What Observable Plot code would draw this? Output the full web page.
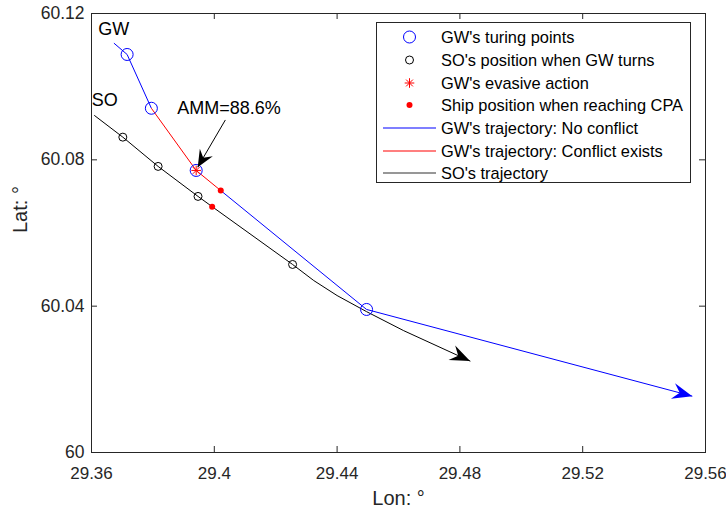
<!DOCTYPE html>
<html>
<head>
<meta charset="utf-8">
<script src="https://cdn.jsdelivr.net/npm/d3@7"></script>
<script src="https://cdn.jsdelivr.net/npm/@observablehq/plot@0.6"></script>
<style>
  html, body { margin: 0; padding: 0; background: #fff; }
  #wrap { position: relative; width: 726px; height: 511px; font-family: "Liberation Sans", Arial, sans-serif; }
  #legend { position: absolute; left: 376px; top: 22px; width: 315px; height: 161px;
            border: 1px solid #262626; background: #fff; box-sizing: border-box; }
  #legend .row { position: absolute; left: 0; height: 22px; line-height: 22px; font-size: 16.4px; color: #000; white-space: nowrap; }
  #legend svg { position: absolute; left: 6px; top: 0; }
  #legend span { position: absolute; left: 64px; top: 0; }
</style>
</head>
<body>
<div id="wrap"></div>
<script>
// Axis ticks
const xTicks = [29.36, 29.40, 29.44, 29.48, 29.52, 29.56];
const xTickLabels = ["29.36", "29.4", "29.44", "29.48", "29.52", "29.56"];
const yTicks = [60.00, 60.04, 60.08, 60.12];
const yTickLabels = ["60", "60.04", "60.08", "60.12"];

// GW (give-way ship) track, lon/lat in degrees
const gwLon = [29.3673, 29.3716, 29.3795, 29.3941, 29.4021, 29.4496, 29.5557];
const gwLat = [60.1119, 60.1088, 60.0941, 60.0771, 60.0716, 60.0391, 60.0154];
// segment i -> i+1 flagged when a conflict exists
const gwConflict = [false, false, true, true, false, false];
const gwTurnIdx = [1, 2, 3, 5];
const gwEvasiveIdx = [3];
const gwCpaIdx = [4];

// SO (stand-on ship) track
const soLon = [29.3610, 29.3702, 29.3817, 29.3947, 29.3993, 29.4255, 29.4324, 29.4400, 29.4496, 29.4617, 29.4833];
const soLat = [60.0921, 60.0862, 60.0782, 60.0700, 60.0672, 60.0514, 60.0470, 60.0429, 60.0385, 60.0333, 60.0250];
const soMarkIdx = [1, 2, 3, 5];
const soCpaIdx = [4];

// Annotations
const ammText = ["AMM=88.6%"];
const ammTextLon = [29.3879], ammTextLat = [60.0940];
const ammArrowFrom = [29.4036, 60.0909];
const ammArrowTo = [29.3946, 60.0780];
const shipNames = ["GW", "SO"];
const shipNameLon = [29.3622, 29.3601];
const shipNameLat = [60.1158, 60.0962];

const BLUE = "#0000ff", RED = "#ff0000", BLACK = "#000000", AXIS = "#262626";
const FONT = "'Liberation Sans', Arial, sans-serif";

const gwPts = gwLon.map((lon, i) => ({lon, lat: gwLat[i]}));
const soPts = soLon.map((lon, i) => ({lon, lat: soLat[i]}));
const gwSegs = gwConflict.map((c, i) => ({
  x1: gwLon[i], y1: gwLat[i], x2: gwLon[i + 1], y2: gwLat[i + 1], conflict: c, last: i === gwConflict.length - 1
}));

const svgNS = "http://www.w3.org/2000/svg";
// filled, notched arrowhead used at the end of tracks
function notchedHead(len, half, notch) {
  return function (color, context) {
    const doc = (context && context.document) || document;
    const m = doc.createElementNS(svgNS, "marker");
    m.setAttribute("viewBox", `${-len - 1} ${-half - 1} ${len + 2} ${2 * half + 2}`);
    m.setAttribute("markerWidth", len + 2);
    m.setAttribute("markerHeight", 2 * half + 2);
    m.setAttribute("markerUnits", "userSpaceOnUse");
    m.setAttribute("refX", 0);
    m.setAttribute("refY", 0);
    m.setAttribute("orient", "auto");
    m.setAttribute("overflow", "visible");
    const p = doc.createElementNS(svgNS, "path");
    p.setAttribute("d", `M0,0L${-len},${-half}L${-len + notch},0L${-len},${half}Z`);
    p.setAttribute("fill", color);
    p.setAttribute("stroke", "none");
    m.appendChild(p);
    return m;
  };
}

function withMarker(makeMark, marker) {
  try { return makeMark(marker); } catch (e) { return makeMark("arrow"); }
}

const W = 726, H = 511;
const mL = 91, mR = 21, mT = 13, mB = 59;
const innerW = W - mL - mR, innerH = H - mT - mB;
const TICK = 6;

const chart = Plot.plot({
  width: W,
  height: H,
  marginLeft: mL, marginRight: mR, marginTop: mT, marginBottom: mB,
  style: {fontFamily: FONT, background: "#fff", overflow: "visible"},
  x: {domain: [29.36, 29.56]},
  y: {domain: [60, 60.12]},
  marks: [
    // inward ticks on all four sides
    Plot.tickX(xTicks, {x: d => d, stroke: AXIS, insetTop: innerH - TICK}),
    Plot.tickX(xTicks, {x: d => d, stroke: AXIS, insetBottom: innerH - TICK}),
    Plot.tickY(yTicks, {y: d => d, stroke: AXIS, insetRight: innerW - TICK}),
    Plot.tickY(yTicks, {y: d => d, stroke: AXIS, insetLeft: innerW - TICK}),
    Plot.axisX({ticks: xTicks, tickSize: 0, tickPadding: 14, fontSize: 17, color: AXIS,
      tickFormat: (d) => xTickLabels[xTicks.indexOf(d)], label: null}),
    Plot.axisY({ticks: yTicks, tickSize: 0, tickPadding: 7, fontSize: 17.5, color: AXIS,
      tickFormat: (d) => yTickLabels[yTicks.indexOf(d)], label: null}),
    Plot.text(["Lon: °"], {text: d => d, frameAnchor: "bottom", dy: 52, lineAnchor: "bottom", fontSize: 20, fill: AXIS}),
    Plot.text(["Lat: °"], {text: d => d, frameAnchor: "left", dx: -65, rotate: -90, lineAnchor: "bottom", fontSize: 20, fill: AXIS}),

    // SO trajectory
    withMarker(m => Plot.line(soPts, {x: "lon", y: "lat", stroke: BLACK, strokeWidth: 1, markerEnd: m}), notchedHead(20, 8, 7)),
    // GW trajectory
    Plot.link(gwSegs.filter(s => !s.last), {x1: "x1", y1: "y1", x2: "x2", y2: "y2",
      stroke: s => s.conflict ? RED : BLUE, strokeWidth: 1}),
    withMarker(m => Plot.link(gwSegs.filter(s => s.last), {x1: "x1", y1: "y1", x2: "x2", y2: "y2",
      stroke: BLUE, strokeWidth: 1, markerEnd: m}), notchedHead(20, 8, 7)),

    // positions
    Plot.dot(soMarkIdx.map(i => soPts[i]), {x: "lon", y: "lat", r: 4, stroke: BLACK, strokeWidth: 1}),
    Plot.dot(gwTurnIdx.map(i => gwPts[i]), {x: "lon", y: "lat", r: 6, stroke: BLUE, strokeWidth: 1}),
    Plot.dot(gwEvasiveIdx.map(i => gwPts[i]), {x: "lon", y: "lat", r: 3.2, symbol: "plus", stroke: RED, strokeWidth: 1}),
    Plot.dot(gwEvasiveIdx.map(i => gwPts[i]), {x: "lon", y: "lat", r: 3.2, symbol: "times", stroke: RED, strokeWidth: 1}),
    Plot.dot(gwCpaIdx.map(i => gwPts[i]).concat(soCpaIdx.map(i => soPts[i])), {x: "lon", y: "lat", r: 3, fill: RED}),

    // annotations
    withMarker(m => Plot.link([0], {x1: ammArrowFrom[0], y1: ammArrowFrom[1], x2: ammArrowTo[0], y2: ammArrowTo[1],
      stroke: BLACK, strokeWidth: 1, markerEnd: m}), notchedHead(17, 7.5, 6)),
    Plot.text(ammText, {text: d => d, x: ammTextLon, y: ammTextLat, textAnchor: "start", fontSize: 18, fill: BLACK}),
    Plot.text(shipNames, {text: d => d, x: shipNameLon, y: shipNameLat, textAnchor: "start", fontSize: 18, fill: BLACK}),

    Plot.frame({stroke: AXIS, strokeWidth: 1})
  ]
});

const wrap = document.getElementById("wrap");
wrap.appendChild(chart);

// legend box
const legendItems = [
  {label: "GW's turing points", kind: "circle", color: BLUE, r: 6},
  {label: "SO's position when GW turns", kind: "circle", color: BLACK, r: 4},
  {label: "GW's evasive action", kind: "asterisk", color: RED},
  {label: "Ship position when reaching CPA", kind: "dot", color: RED},
  {label: "GW's trajectory: No conflict", kind: "line", color: BLUE},
  {label: "GW's trajectory: Conflict exists", kind: "line", color: RED},
  {label: "SO's trajectory", kind: "line", color: "#303030"}
];
const legend = document.createElement("div");
legend.id = "legend";
const rowCenters = [14, 37, 60, 82, 105, 128, 150];
legendItems.forEach((it, i) => {
  const row = document.createElement("div");
  row.className = "row";
  row.style.top = (rowCenters[i] - 11) + "px";
  const s = document.createElementNS(svgNS, "svg");
  s.setAttribute("width", 56); s.setAttribute("height", 22);
  const cx = 26.5, cy = 11;
  const add = (tag, attrs) => {
    const el = document.createElementNS(svgNS, tag);
    for (const k in attrs) el.setAttribute(k, attrs[k]);
    s.appendChild(el);
  };
  if (it.kind === "circle") add("circle", {cx, cy, r: it.r, fill: "none", stroke: it.color});
  if (it.kind === "dot") add("circle", {cx, cy, r: 3, fill: it.color});
  if (it.kind === "asterisk") add("path", {
    d: `M${cx - 4.8},${cy}H${cx + 4.8}M${cx},${cy - 4.8}V${cy + 4.8}M${cx - 3.4},${cy - 3.4}L${cx + 3.4},${cy + 3.4}M${cx - 3.4},${cy + 3.4}L${cx + 3.4},${cy - 3.4}`,
    stroke: it.color, fill: "none"});
  if (it.kind === "line") add("line", {x1: 0, x2: 53, y1: cy, y2: cy, stroke: it.color, "stroke-width": 1.2});
  const t = document.createElement("span");
  t.textContent = it.label;
  row.appendChild(s);
  row.appendChild(t);
  legend.appendChild(row);
});
wrap.appendChild(legend);
</script>
</body>
</html>
